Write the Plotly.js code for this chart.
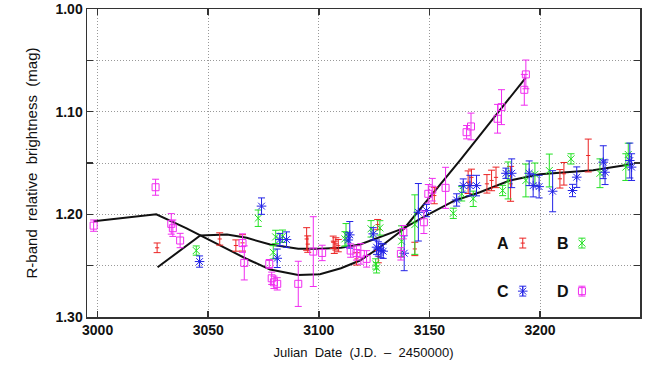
<!DOCTYPE html>
<html>
<head>
<meta charset="utf-8">
<script src="https://cdn.plot.ly/plotly-3.0.1.min.js"></script>
<style>html,body{margin:0;padding:0;background:#fff;}#chart{width:646px;height:372px;}</style>
</head>
<body>
<div id="chart"></div>
<script>
// ---- data ----
const aX = [3026.9,3055.2,3062.5,3065.5,3094.5,3095.0,3106.5,3107.0,3107.7,3108.8,3117.0,3126.6,3126.9,3143.4,3152.2,3167.5,3169.0,3176.0,3178.1,3180.1,3186.7,3209.0,3210.8,3221.8];
const aY = [1.2326,1.2240,1.2304,1.2278,1.2240,1.2290,1.2272,1.2321,1.2288,1.2305,1.2434,1.2100,1.2412,1.2337,1.1817,1.1687,1.1640,1.1703,1.1670,1.1640,1.1703,1.1654,1.1605,1.1427];
const aE = [0.0047,0.006,0.0055,0.008,0.011,0.008,0.006,0.006,0.006,0.006,0.006,0.005,0.006,0.0065,0.008,0.011,0.008,0.009,0.010,0.010,0.017,0.009,0.011,0.016];

const bX = [3044.6,3072.6,3079.4,3080.5,3083.6,3111.8,3112.3,3123.6,3125.7,3126.1,3127.6,3137.4,3143.4,3160.8,3164.6,3169.8,3183.1,3185.6,3193.6,3197.7,3204.2,3214.0,3227.1,3238.8,3239.9];
const bY = [1.2353,1.2038,1.2370,1.2220,1.2213,1.2239,1.2200,1.2141,1.2483,1.2521,1.2132,1.2262,1.2100,1.1990,1.1800,1.1849,1.1768,1.1670,1.1670,1.1610,1.1573,1.1460,1.1600,1.1540,1.1417];
const bE = [0.0045,0.008,0.0065,0.0065,0.006,0.007,0.011,0.008,0.005,0.005,0.007,0.015,0.029,0.005,0.007,0.0075,0.005,0.018,0.016,0.011,0.016,0.005,0.014,0.013,0.011];

const cX = [3046.1,3074.1,3081.2,3082.4,3085.4,3113.3,3114.0,3124.6,3126.1,3126.9,3128.1,3129.1,3138.6,3145.0,3148.7,3162.3,3165.3,3168.3,3171.3,3184.6,3187.2,3195.1,3196.9,3199.6,3205.7,3214.7,3216.6,3228.6,3229.4,3240.6,3241.4];
const cY = [1.2460,1.1920,1.2428,1.2246,1.2246,1.2250,1.2200,1.2190,1.2320,1.2337,1.2353,1.2359,1.2379,1.1980,1.1963,1.1860,1.1720,1.1720,1.1720,1.1600,1.1600,1.1600,1.1720,1.1730,1.1775,1.1768,1.1638,1.1492,1.1590,1.1476,1.1540];
const cE = [0.0055,0.008,0.009,0.006,0.0075,0.007,0.013,0.006,0.007,0.007,0.007,0.007,0.017,0.028,0.006,0.006,0.0065,0.010,0.010,0.005,0.014,0.012,0.011,0.011,0.020,0.006,0.010,0.016,0.012,0.017,0.013];

const dX = [2998.2,3026.2,3033.3,3034.0,3037.3,3065.5,3066.3,3077.6,3078.7,3079.7,3081.2,3090.7,3097.5,3101.5,3114.4,3117.0,3119.0,3121.6,3137.1,3138.2,3147.5,3149.5,3151.3,3157.3,3166.8,3168.8,3180.8,3182.6,3192.9,3193.6];
const dY = [1.2110,1.1736,1.2093,1.2135,1.2255,1.2280,1.2473,1.2483,1.2623,1.2662,1.2677,1.2677,1.2363,1.2376,1.2353,1.2376,1.2385,1.2434,1.2385,1.2174,1.2077,1.1800,1.1760,1.1742,1.1200,1.1144,1.1069,1.0956,1.0787,1.0637];
const dE = [0.0055,0.0078,0.010,0.008,0.007,0.009,0.0166,0.0043,0.006,0.006,0.006,0.022,0.034,0.0075,0.0065,0.007,0.010,0.008,0.006,0.0065,0.011,0.009,0.011,0.020,0.0065,0.013,0.014,0.017,0.015,0.014];

const fit1X = [2998.2,3026.5,3040.0,3055.0,3067.0,3078.0,3090.7,3100.5,3110.0,3118.6,3127.0,3138.5,3164.0,3193.5];
const fit1Y = [1.2067,1.2000,1.2135,1.2297,1.2430,1.2538,1.2590,1.2584,1.2525,1.2450,1.2330,1.2140,1.1470,1.0670];
const fit2X = [3027.1,3046.4,3058.5,3067.4,3078.0,3090.7,3100.5,3110.0,3118.6,3126.9,3138.5,3148.7,3161.5,3172.8,3186.3,3200.0,3224.0,3242.0];
const fit2Y = [1.2516,1.2206,1.2197,1.2229,1.2294,1.2336,1.2336,1.2325,1.2294,1.2230,1.2135,1.2010,1.1865,1.1785,1.1670,1.1610,1.1570,1.1510];

const xTicks = [3000,3050,3100,3150,3200];
const yTicks = [1.00,1.05,1.10,1.15,1.20,1.25,1.30];
const yTickText = ['1.00','','1.10','','1.20','','1.30'];
const keyLabels = ['A','B','C','D'];

// ---- styles ----
const RED = 'rgb(235,35,35)', GREEN = 'rgb(35,225,35)', BLUE = 'rgb(35,35,230)', MAG = 'rgb(240,45,240)';
const FONT = '"Liberation Sans", Arial, Helvetica, sans-serif';

function series(x, y, e, color, symbol, size, xa, ya) {
  return {
    type: 'scatter', mode: 'markers', x: x, y: y,
    xaxis: xa || 'x', yaxis: ya || 'y',
    marker: {color: color, symbol: symbol, size: size, line: {color: color, width: 1}},
    error_y: {type: 'data', array: e, visible: true, color: color, thickness: 1, width: 3.5},
    hoverinfo: 'skip', cliponaxis: false
  };
}

const traces = [
  {type:'scatter', mode:'lines', x: fit1X, y: fit1Y, line:{color:'#111', width:2}, hoverinfo:'skip'},
  {type:'scatter', mode:'lines', x: fit2X, y: fit2Y, line:{color:'#111', width:2}, hoverinfo:'skip'},
  series(aX, aY, aE, RED, 'line-ew-open', 3),
  series(bX, bY, bE, GREEN, 'x-thin-open', 7),
  series(cX, cY, cE, BLUE, 'asterisk-open', 8),
  series(dX, dY, dE, MAG, 'square-open', 7)
];

// key (legend) markers drawn on an overlay axis in [0,1] units
const keyPX = [0.788, 0.895, 0.788, 0.895];
const keyPY = [0.240, 0.240, 0.084, 0.084];
const keyColors = [RED, GREEN, BLUE, MAG];
const keySymbols = ['line-ew-open', 'x-thin-open', 'asterisk-open', 'square-open'];
const keySizes = [3, 7, 8, 7];
for (let i = 0; i < 4; i++) {
  traces.push(series([keyPX[i]], [keyPY[i]], [0.016], keyColors[i], keySymbols[i], keySizes[i], 'x2', 'y2'));
}

const annotations = keyLabels.map((t, i) => ({
  xref: 'x2', yref: 'y2', x: keyPX[i] - 0.035, y: keyPY[i], text: t, showarrow: false,
  xanchor: 'center', yanchor: 'middle', font: {family: FONT, size: 16, color: '#111', weight: 'bold'}
}));

const layout = {
  width: 646, height: 372,
  margin: {l: 87, r: 6, t: 9, b: 55},
  paper_bgcolor: '#fff', plot_bgcolor: '#fff',
  showlegend: false,
  font: {family: FONT, color: '#111'},
  xaxis: {
    range: [2995.2, 3245.2], tickvals: xTicks, ticktext: xTicks.map(String),
    showgrid: true, gridcolor: '#999', griddash: '1px,2px', gridwidth: 1,
    zeroline: false, showline: true, linecolor: '#333', linewidth: 1.5, mirror: 'ticks',
    ticks: 'inside', ticklen: 6, tickwidth: 1.5, tickcolor: '#333',
    tickfont: {family: FONT, size: 14, color: '#111', weight: 'bold'},
    title: {text: 'Julian  Date  (J.D.  –  2450000)', font: {family: FONT, size: 13, color: '#111'}, standoff: 10}
  },
  yaxis: {
    range: [1.30, 1.00], tickvals: yTicks, ticktext: yTickText,
    showgrid: true, gridcolor: '#999', griddash: '1px,2px', gridwidth: 1,
    zeroline: false, showline: true, linecolor: '#333', linewidth: 1.5, mirror: 'ticks',
    ticks: 'inside', ticklen: 6, tickwidth: 1.5, tickcolor: '#333',
    tickfont: {family: FONT, size: 14, color: '#111', weight: 'bold'},
    title: {text: 'R-band  relative  brightness  (mag)', font: {family: FONT, size: 15, color: '#111'}, standoff: 14}
  },
  xaxis2: {overlaying: 'x', range: [0, 1], visible: false, fixedrange: true},
  yaxis2: {overlaying: 'y', range: [0, 1], visible: false, fixedrange: true},
  annotations: annotations
};

Plotly.newPlot('chart', traces, layout, {staticPlot: true, displayModeBar: false});
</script>
</body>
</html>
